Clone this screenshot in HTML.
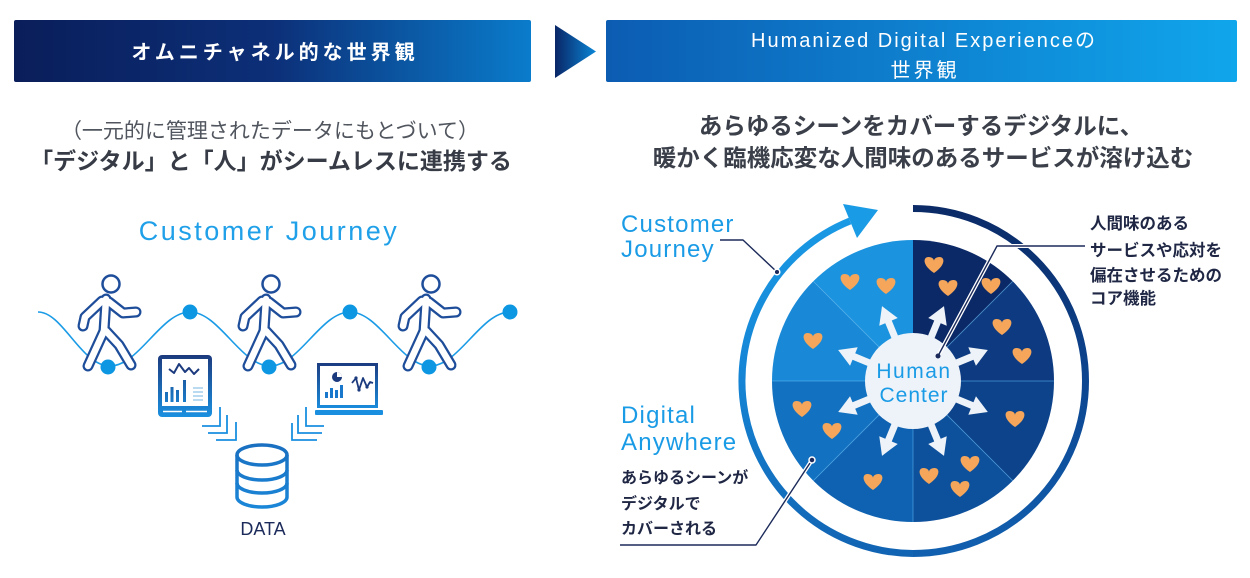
<!DOCTYPE html>
<html><head><meta charset="utf-8"><style>html,body{margin:0;padding:0;background:#fff;}svg{display:block;}</style></head>
<body>
<svg width="1250" height="578" viewBox="0 0 1250 578" xmlns="http://www.w3.org/2000/svg" font-family="'Liberation Sans','Noto Sans CJK JP',sans-serif">
<defs>
<linearGradient id="hl" x1="0" y1="0" x2="1" y2="0"><stop offset="0" stop-color="#0a1e5a"/><stop offset="0.5" stop-color="#0c2f78"/><stop offset="1" stop-color="#0a7ccb"/></linearGradient>
<linearGradient id="tri" x1="0" y1="0" x2="1" y2="0"><stop offset="0" stop-color="#0a2667"/><stop offset="1" stop-color="#0a86d6"/></linearGradient>
<linearGradient id="hr" x1="0" y1="0" x2="1" y2="0"><stop offset="0" stop-color="#0c5cb2"/><stop offset="1" stop-color="#10a6ec"/></linearGradient>
<linearGradient id="ringR" gradientUnits="userSpaceOnUse" x1="0" y1="205" x2="0" y2="557"><stop offset="0" stop-color="#0b2a66"/><stop offset="0.5" stop-color="#0c4590"/><stop offset="1" stop-color="#1160b0"/></linearGradient>
<linearGradient id="ringL" gradientUnits="userSpaceOnUse" x1="0" y1="205" x2="0" y2="557"><stop offset="0" stop-color="#1a9be6"/><stop offset="0.5" stop-color="#1584d4"/><stop offset="1" stop-color="#1163b2"/></linearGradient>
<linearGradient id="tabg" gradientUnits="userSpaceOnUse" x1="0" y1="355" x2="0" y2="417"><stop offset="0" stop-color="#1c3a7e"/><stop offset="1" stop-color="#1a90e0"/></linearGradient>
<linearGradient id="lapg" gradientUnits="userSpaceOnUse" x1="0" y1="362" x2="0" y2="410"><stop offset="0" stop-color="#1c3a7e"/><stop offset="1" stop-color="#1a8fe0"/></linearGradient>
<linearGradient id="dbg" gradientUnits="userSpaceOnUse" x1="0" y1="444" x2="0" y2="508"><stop offset="0" stop-color="#1a6fc0"/><stop offset="1" stop-color="#1a86d8"/></linearGradient>
<path id="heart" d="M0,7 C-12,-1 -11,-9 -5.5,-9 C-2,-9 0,-7 0,-5 C0,-7 2,-9 5.5,-9 C11,-9 12,-1 0,7Z" fill="#f5a65a"/>
<g id="arr"><rect x="-3.5" y="-66" width="7" height="26" fill="#eef3f9"/><polygon points="-10,-64 10,-64 0,-81" fill="#eef3f9"/></g>
<g id="fig">
 <g stroke="#1e4d9a" stroke-width="11" stroke-linecap="round" stroke-linejoin="round" fill="none">
  <path d="M106,299 L104,331"/>
  <path d="M102,301 L85,317 L83,326"/>
  <path d="M109,302 L123,313 L136,312"/>
  <path d="M104,331 L88,366"/>
  <path d="M106,331 L119,345 L131,365"/>
 </g>
 <g stroke="#fff" stroke-width="6.5" stroke-linecap="round" stroke-linejoin="round" fill="none">
  <path d="M106,299 L104,331"/>
  <path d="M102,301 L85,317 L83,326"/>
  <path d="M109,302 L123,313 L136,312"/>
  <path d="M104,331 L88,366"/>
  <path d="M106,331 L119,345 L131,365"/>
 </g>
 <circle cx="111" cy="284" r="8.5" fill="#fff" stroke="#1e4d9a" stroke-width="2.5"/>
</g>
</defs>
<rect width="1250" height="578" fill="#fff"/>

<!-- headers -->
<rect x="14" y="20" width="517" height="62" rx="2" fill="url(#hl)"/>
<polygon points="555,25 596,51.5 555,78" fill="url(#tri)"/>
<rect x="606" y="20" width="631" height="62" rx="2" fill="url(#hr)"/>
<text x="275" y="59" text-anchor="middle" font-size="20" font-weight="bold" fill="#fff" letter-spacing="4">オムニチャネル的な世界観</text>
<text x="924" y="47" text-anchor="middle" font-size="20" fill="#fff" letter-spacing="2">Humanized Digital Experienceの</text>
<text x="925" y="77" text-anchor="middle" font-size="20" fill="#fff" letter-spacing="3">世界観</text>

<!-- subtitles -->
<text x="270" y="138" text-anchor="middle" font-size="21" fill="#50555e">（一元的に管理されたデータにもとづいて）</text>
<text x="271" y="169" text-anchor="middle" font-size="23" font-weight="bold" fill="#363b45">「デジタル」と「人」がシームレスに連携する</text>
<text x="921" y="134" text-anchor="middle" font-size="23.5" font-weight="bold" fill="#3a3f49">あらゆるシーンをカバーするデジタルに、</text>
<text x="923" y="166" text-anchor="middle" font-size="23.5" font-weight="bold" fill="#3a3f49">暖かく臨機応変な人間味のあるサービスが溶け込む</text>

<!-- LEFT PANEL -->
<text x="269" y="240" text-anchor="middle" font-size="27" fill="#1fa0e8" letter-spacing="2.5">Customer Journey</text>
<path d="M38,312 C63,312 81,366 110,366 C139,366 161,312 190,312 C219,312 241,366 270,366 C299,366 321,312 350,312 C379,312 401,366 430,366 C459,366 481,312 510,312" fill="none" stroke="#1a9be6" stroke-width="1.6"/>
<g fill="#0d96e2">
<circle cx="190" cy="312" r="7.5"/><circle cx="350" cy="312" r="7.5"/><circle cx="510" cy="312" r="7.5"/>
</g>
<use href="#fig"/>
<use href="#fig" transform="translate(160,0)"/>
<use href="#fig" transform="translate(320,0)"/>
<g fill="#0d96e2">
<circle cx="108" cy="367" r="7.5"/><circle cx="269" cy="367" r="7.5"/><circle cx="429" cy="367" r="7.5"/>
</g>

<!-- tablet -->
<rect x="158" y="355" width="54" height="62" rx="4" fill="url(#tabg)"/>
<rect x="162" y="359" width="46" height="47" fill="#fff"/>
<line x1="163" y1="411.5" x2="182" y2="411.5" stroke="#fff" stroke-width="1.5"/>
<line x1="186" y1="411.5" x2="207" y2="411.5" stroke="#fff" stroke-width="1.5"/>
<polyline points="169,369 174,373 179,364 185,372 189,368 194,374 199,369" fill="none" stroke="#1c3a7e" stroke-width="2" stroke-linejoin="round"/>
<g fill="url(#tabg)">
<rect x="165" y="392" width="3" height="10"/><rect x="170.5" y="387" width="3" height="15"/><rect x="176" y="390" width="3" height="12"/><rect x="183" y="380" width="3" height="22"/>
</g>
<g stroke="#8cc2ea" stroke-width="1.2">
<line x1="193" y1="388" x2="203" y2="388"/><line x1="193" y1="392" x2="203" y2="392"/><line x1="193" y1="396" x2="203" y2="396"/><line x1="193" y1="400" x2="203" y2="400"/>
</g>

<!-- laptop -->
<rect x="318.5" y="364.5" width="58" height="42" fill="#fff" stroke="url(#lapg)" stroke-width="3"/>
<rect x="315" y="410" width="68" height="5" rx="1" fill="#1a8fe0"/>
<circle cx="337" cy="377" r="5" fill="#1c3a7e"/>
<path d="M337,377 L337,372 A5,5 0 0 1 342,377 Z" fill="#fff"/>
<g fill="#1a78cc">
<rect x="325" y="392" width="3" height="6"/><rect x="330" y="388" width="3" height="10"/><rect x="335" y="390" width="3" height="8"/><rect x="340" y="385" width="3" height="13"/>
</g>
<polyline points="352,383 356,378 359,390 363,378 367,387 370,382 373,383" fill="none" stroke="#1c3a7e" stroke-width="1.8" stroke-linejoin="round"/>
<circle cx="359" cy="390" r="1.6" fill="#1c3a7e"/><circle cx="356" cy="378" r="1.6" fill="#1c3a7e"/><circle cx="367" cy="387" r="1.6" fill="#1c3a7e"/>

<!-- chevrons -->
<g fill="none" stroke="#1a8fe0" stroke-width="1.8">
<path d="M202,426 L220,426 L220,407"/>
<path d="M208,433 L227,433 L227,415"/>
<path d="M216,440 L236,440 L236,422"/>
<path d="M324,426 L306,426 L306,407"/>
<path d="M322,433 L298,433 L298,415"/>
<path d="M317,440 L292,440 L292,423"/>
</g>

<!-- database -->
<g fill="none" stroke="url(#dbg)" stroke-width="3.5">
<ellipse cx="262" cy="455" rx="25" ry="10" fill="#fff"/>
<path d="M237,455 L237,497 M287,455 L287,497"/>
<path d="M237,470 A25,10 0 0 0 287,470"/>
<path d="M237,483 A25,10 0 0 0 287,483"/>
<path d="M237,497 A25,10 0 0 0 287,497"/>
</g>
<text x="263" y="535" text-anchor="middle" font-size="18" fill="#1b2a5a">DATA</text>

<!-- RIGHT PANEL -->
<path d="M913,381 L913,240 A141,141 0 0 1 1012.7,281.3 Z" fill="#0b2967"/>
<path d="M913,381 L1012.7,281.3 A141,141 0 0 1 1054,381 Z" fill="#0d3a80"/>
<path d="M913,381 L1054,381 A141,141 0 0 1 1012.7,480.7 Z" fill="#0c438b"/>
<path d="M913,381 L1012.7,480.7 A141,141 0 0 1 913,522 Z" fill="#0d509c"/>
<path d="M913,381 L913,522 A141,141 0 0 1 813.3,480.7 Z" fill="#0e62b1"/>
<path d="M913,381 L813.3,480.7 A141,141 0 0 1 772,381 Z" fill="#1271c0"/>
<path d="M913,381 L772,381 A141,141 0 0 1 813.3,281.3 Z" fill="#1989d7"/>
<path d="M913,381 L813.3,281.3 A141,141 0 0 1 913,240 Z" fill="#1c93de"/>
<g stroke="#5fb6f2" stroke-opacity="0.55" stroke-width="1">
<line x1="913" y1="381" x2="1012.7" y2="281.3"/><line x1="913" y1="381" x2="1054" y2="381"/><line x1="913" y1="381" x2="1012.7" y2="480.7"/><line x1="913" y1="381" x2="913" y2="522"/><line x1="913" y1="381" x2="813.3" y2="480.7"/><line x1="913" y1="381" x2="772" y2="381"/><line x1="913" y1="381" x2="813.3" y2="281.3"/>
</g>

<path d="M913,208.5 A172.5,172.5 0 0 1 913,553.5" stroke="url(#ringR)" stroke-width="7" fill="none"/>
<path d="M913,553.5 A172.5,172.5 0 0 1 850,221" stroke="url(#ringL)" stroke-width="7" fill="none"/>
<polygon points="843,204 878,210 857,238" fill="#1a9be6"/>

<use href="#heart" x="850" y="283"/><use href="#heart" x="886" y="287"/><use href="#heart" x="934" y="266"/><use href="#heart" x="948" y="289"/><use href="#heart" x="991" y="287"/>
<use href="#heart" x="813" y="342"/><use href="#heart" x="1002" y="328"/><use href="#heart" x="1022" y="357"/><use href="#heart" x="802" y="410"/><use href="#heart" x="832" y="432"/>
<use href="#heart" x="1015" y="420"/><use href="#heart" x="970" y="465"/><use href="#heart" x="929" y="477"/><use href="#heart" x="960" y="490"/><use href="#heart" x="873" y="483"/>

<g transform="translate(913,381)">
<use href="#arr" transform="rotate(22.5)"/><use href="#arr" transform="rotate(67.5)"/><use href="#arr" transform="rotate(112.5)"/><use href="#arr" transform="rotate(157.5)"/>
<use href="#arr" transform="rotate(202.5)"/><use href="#arr" transform="rotate(247.5)"/><use href="#arr" transform="rotate(292.5)"/><use href="#arr" transform="rotate(337.5)"/>
<circle cx="0" cy="0" r="48" fill="#eef3f9"/>
</g>
<text x="914" y="378" text-anchor="middle" font-size="21" fill="#1a9be6" letter-spacing="1.5">Human</text>
<text x="914" y="402" text-anchor="middle" font-size="21" fill="#1a9be6" letter-spacing="1">Center</text>

<g fill="none" stroke-linejoin="round">
<path d="M720,240 L743,240 L777,272" stroke="#fff" stroke-width="4"/>
<path d="M720,240 L743,240 L777,272" stroke="#1b2a5a" stroke-width="1.4"/>
<path d="M812,460 L756,545 L620,545" stroke="#fff" stroke-width="4"/>
<path d="M812,460 L756,545 L620,545" stroke="#1b2a5a" stroke-width="1.4"/>
<path d="M938,356 L997,246 L1085,246" stroke="#fff" stroke-width="4"/>
<path d="M938,356 L997,246 L1085,246" stroke="#1b2a5a" stroke-width="1.4"/>
</g>
<circle cx="777" cy="272" r="2.8" fill="#1b2a5a" stroke="#fff" stroke-width="1.5"/>
<circle cx="812" cy="460" r="3" fill="#1b2a5a" stroke="#fff" stroke-width="1.5"/>
<circle cx="938" cy="356" r="2.5" fill="#1b2a5a"/>

<g font-size="24" fill="#1a9be6" letter-spacing="1.2">
<text x="621" y="232">Customer</text>
<text x="621" y="257">Journey</text>
<text x="621" y="423">Digital</text>
<text x="621" y="450">Anywhere</text>
</g>
<g font-size="16" font-weight="bold" fill="#1f2744">
<text x="621" y="483">あらゆるシーンが</text>
<text x="621" y="509">デジタルで</text>
<text x="621" y="534">カバーされる</text>
</g>
<g font-size="16.5" font-weight="bold" fill="#1f2744">
<text x="1090" y="229">人間味のある</text>
<text x="1090" y="256">サービスや応対を</text>
<text x="1090" y="281">偏在させるための</text>
<text x="1090" y="304">コア機能</text>
</g>
</svg>
</body></html>
